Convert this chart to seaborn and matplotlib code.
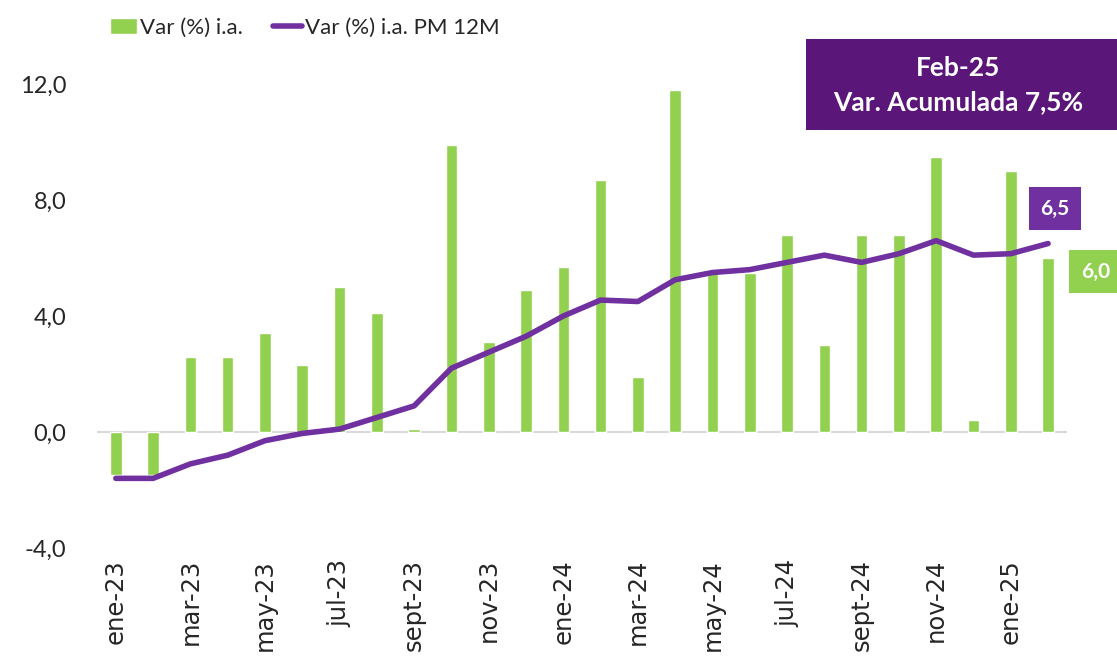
import pandas as pd
import seaborn as sns
import matplotlib.pyplot as plt
from matplotlib.patches import Rectangle

# meses ene-23 .. feb-25
meses = ["ene-23", "feb-23", "mar-23", "abr-23", "may-23", "jun-23", "jul-23", "ago-23",
         "sept-23", "oct-23", "nov-23", "dic-23", "ene-24", "feb-24", "mar-24", "abr-24",
         "may-24", "jun-24", "jul-24", "ago-24", "sept-24", "oct-24", "nov-24", "dic-24",
         "ene-25", "feb-25"]
var_ia = [-1.5, -1.5, 2.6, 2.6, 3.4, 2.3, 5.0, 4.1, 0.1, 9.9, 3.1, 4.9, 5.7,
          8.7, 1.9, 11.8, 5.5, 5.5, 6.8, 3.0, 6.8, 6.8, 9.5, 0.4, 9.0, 6.0]
var_pm12 = [-1.6, -1.6, -1.1, -0.8, -0.3, -0.05, 0.1, 0.5, 0.9, 2.2, 2.75, 3.3, 4.0,
            4.55, 4.5, 5.25, 5.5, 5.6, 5.85, 6.1, 5.85, 6.15, 6.6, 6.1, 6.15, 6.5]

verde = "#92D050"
morado = "#7030A0"
morado_osc = "#5A1679"

df = pd.DataFrame({"mes": meses, "ia": var_ia, "pm": var_pm12, "pos": range(len(meses))})

sns.set_style("white")
plt.rcParams['font.family'] = ['Lato', 'DejaVu Sans']

fig = plt.figure(figsize=(11.17, 6.57), dpi=100)
ax = fig.add_axes([0.087, 0.166, 0.868, 0.706])

sns.barplot(data=df, x="mes", y="ia", color=verde, width=0.31, ax=ax, saturation=1,
            label="Var (%) i.a.")
sns.lineplot(data=df, x="pos", y="pm", color=morado, linewidth=4, ax=ax,
             label="Var (%) i.a. PM 12M", solid_capstyle="round")

ax.axhline(0, color="#d9d9d9", linewidth=1.5, zorder=0)
ax.set_xlim(-0.5, len(meses) - 0.5)
ax.set_ylim(-4, 12)
ax.set_yticks([-4, 0, 4, 8, 12])
ax.set_yticklabels([f"{v:.1f}".replace(".", ",") for v in [-4, 0, 4, 8, 12]], fontsize=17)
ax.set_xticks(range(0, len(meses), 2))
ax.set_xticklabels(meses[::2], rotation=90, fontsize=17.5, family=['DejaVu Sans'])
ax.set_xlabel("")
ax.set_ylabel("")
ax.tick_params(axis="y", length=0, pad=22)
ax.tick_params(axis="x", length=0, pad=8)
for s in ax.spines.values():
    s.set_visible(False)

# leyenda: barras primero, luego línea
handles, labels = ax.get_legend_handles_labels()
ax.get_legend().remove()
h = dict(zip(labels, handles))
fig.legend([h["Var (%) i.a."]], ["Var (%) i.a."], loc="center left",
           bbox_to_anchor=(110 / 1117, 1 - 28 / 657), frameon=False, fontsize=16,
           handlelength=1.2, handletextpad=0.15, borderpad=0, borderaxespad=0)
fig.legend([h["Var (%) i.a. PM 12M"]], ["Var (%) i.a. PM 12M"], loc="center left",
           bbox_to_anchor=(273 / 1117, 1 - 28 / 657), frameon=False, fontsize=16,
           handlelength=1.3, handletextpad=0.15, borderpad=0, borderaxespad=0)

# etiquetas finales
ax.annotate("6,5", xy=(len(meses) - 1, var_pm12[-1]), xytext=(5, 25), textcoords="offset points",
            ha="center", va="center", color="white", fontsize=15, fontweight="bold",
            bbox=dict(boxstyle="square,pad=0.55", fc=morado, ec="none"))
ax.annotate("6,0", xy=(len(meses) - 1, var_ia[-1]), xytext=(34, -10), textcoords="offset points",
            ha="center", va="center", color="white", fontsize=15, fontweight="bold",
            bbox=dict(boxstyle="square,pad=0.55", fc=verde, ec="none"))

# recuadro acumulado
fig.patches.append(Rectangle((806 / 1117, 1 - 130 / 657), 311 / 1117, 91 / 657,
                             transform=fig.transFigure, fc=morado_osc, ec="none"))
fig.text(958 / 1117, 1 - 68 / 657, "Feb-25", ha="center", va="center",
         color="white", fontsize=19, fontweight="bold")
fig.text(958 / 1117, 1 - 102 / 657, "Var. Acumulada 7,5%", ha="center", va="center",
         color="white", fontsize=19, fontweight="bold")

fig.savefig("out.png", dpi=100)
